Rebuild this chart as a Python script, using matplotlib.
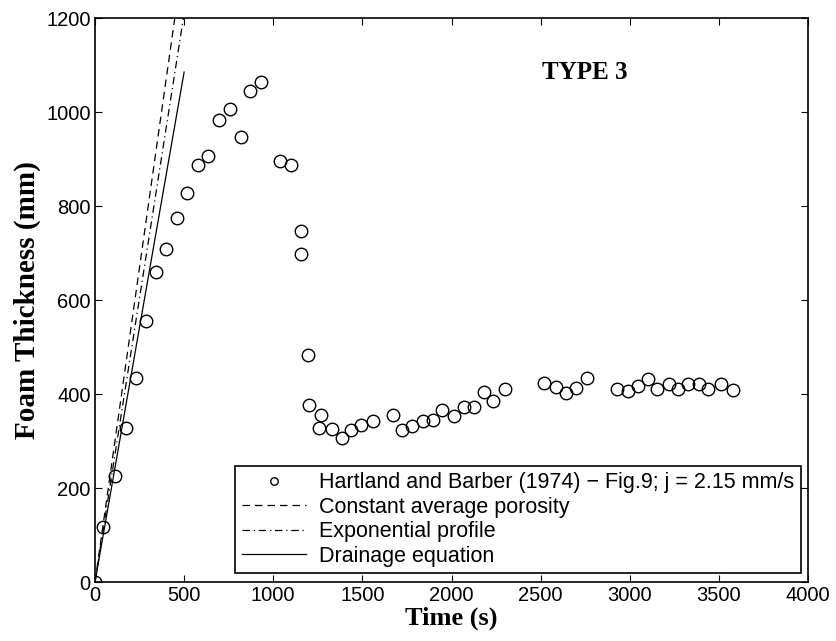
import matplotlib
matplotlib.use("Agg")
import matplotlib.pyplot as plt

# measured foam thickness, Hartland and Barber (1974) fig.9
t_data = [0, 47, 112, 172, 228, 285, 345, 401, 459, 518, 580, 632, 694, 759, 817,
          869, 934, 1037, 1102, 1154, 1158, 1195, 1203, 1259, 1268, 1328, 1383, 1436,
          1495, 1557, 1673, 1721, 1779, 1841, 1897, 1949, 2014, 2072, 2124, 2182, 2234,
          2299, 2519, 2587, 2643, 2699, 2760, 2930, 2990, 3046, 3102, 3154, 3221, 3273,
          3325, 3389, 3441, 3512, 3577]
h_data = [0, 116, 226, 328, 435, 556, 659, 708, 775, 828, 887, 907, 982, 1006, 947,
          1044, 1064, 896, 887, 697, 746, 484, 377, 328, 355, 326, 306, 324,
          333, 343, 355, 323, 332, 343, 344, 365, 353, 372, 372, 404, 385,
          411, 423, 414, 402, 412, 433, 410, 407, 418, 432, 411, 421, 411,
          421, 421, 410, 421, 409]

# model curves (initial foam growth)
t_model = [0, 500]
h_const = [0, 1340]
h_expo = [0, 1210]
h_drain = [0, 1085]

tick_font = "Liberation Sans"
label_font = "Liberation Serif"

fig = plt.figure(figsize=(8.36, 6.41), dpi=100)
ax = fig.add_axes([95/836, 1 - 582/641, 713/836, 564/641])

ax.plot(t_data, h_data, 'o', mfc='none', mec='k', ms=9, mew=1.0,
        label="Hartland and Barber (1974) \u2212 Fig.9; j = 2.15 mm/s")
ax.plot(t_model, h_const, color='k', lw=0.9, dashes=(6, 4), label="Constant average porosity")
ax.plot(t_model, h_expo, color='k', lw=0.9, dashes=(6, 3, 1, 3), label="Exponential profile")
ax.plot(t_model, h_drain, color='k', lw=0.9, label="Drainage equation")

ax.set_xlim(0, 4000)
ax.set_ylim(0, 1200)
ax.set_xticks(range(0, 4001, 500))
ax.set_yticks(range(0, 1201, 200))
ax.tick_params(direction='in', top=True, right=True, length=5, width=0.8,
               labelsize=14.5, pad=3)
for lab in ax.get_xticklabels() + ax.get_yticklabels():
    lab.set_family(tick_font)
for s in ax.spines.values():
    s.set_linewidth(1.2)

ax.set_xlabel("Time (s)", family=label_font, weight='bold', fontsize=19, labelpad=1)
ax.set_ylabel("Foam Thickness (mm)", family=label_font, weight='bold', fontsize=21, labelpad=4)

ax.text(2749, 1083, "TYPE 3", family=label_font, weight='bold', fontsize=18,
        ha='center', va='center')

leg = ax.legend(loc='lower right', bbox_to_anchor=(0.990, 0.016), borderaxespad=0,
                fancybox=False, frameon=True, edgecolor='k', framealpha=1,
                prop={'family': tick_font, 'size': 15.5}, handlelength=3.0,
                labelspacing=0.16, borderpad=0.3, handletextpad=0.6, markerscale=0.6)
leg.get_frame().set_linewidth(1.2)

fig.savefig("out.png", dpi=100)
